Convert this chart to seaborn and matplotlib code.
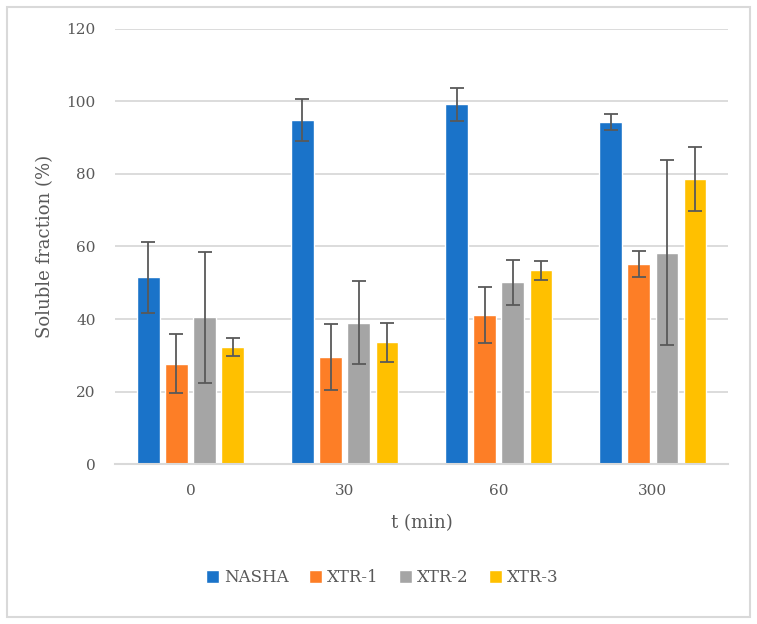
import pandas as pd
import matplotlib.pyplot as plt
import seaborn as sns
from matplotlib.patches import Rectangle

# values
times = ['0', '30', '60', '300']
series = ['NASHA', 'XTR-1', 'XTR-2', 'XTR-3']
nasha = [51.5, 94.8, 99.2, 94.4]
xtr1 = [27.7, 29.6, 41.1, 55.2]
xtr2 = [40.5, 39.0, 50.2, 58.3]
xtr3 = [32.3, 33.6, 53.4, 78.7]
nasha_sd = [9.7, 5.8, 4.6, 2.2]
xtr1_sd = [8.2, 9.1, 7.6, 3.6]
xtr2_sd = [18.0, 11.4, 6.2, 25.5]
xtr3_sd = [2.6, 5.4, 2.6, 8.8]

colors = ['#1a73c9', '#fd7e26', '#a5a5a5', '#ffc000']
text_col = '#595959'
grid_col = '#d9d9d9'

values = [nasha, xtr1, xtr2, xtr3]
sds = [nasha_sd, xtr1_sd, xtr2_sd, xtr3_sd]

rows = []
for name, vals in zip(series, values):
    for t, v in zip(times, vals):
        rows.append({'t': t, 'series': name, 'value': v})
df = pd.DataFrame(rows)

sns.set_style('white')
plt.rcParams['font.family'] = ['DejaVu Serif']

fig = plt.figure(figsize=(7.57, 6.24), dpi=100)
ax = fig.add_axes([0.152, 0.256, 0.81, 0.698])

sns.barplot(data=df, x='t', y='value', hue='series', order=times, hue_order=series,
            palette=colors, width=0.73, gap=0.2, errorbar=None, saturation=1,
            ax=ax, zorder=2)

# error bars on each bar centre
for cont, sd in zip(ax.containers, sds):
    xs = [b.get_x() + b.get_width() / 2 for b in cont]
    ys = [b.get_height() for b in cont]
    ax.errorbar(xs, ys, yerr=sd, fmt='none', ecolor=text_col, elinewidth=1.3,
                capsize=5, capthick=1.3, zorder=3)

ax.set_ylim(0, 120)
ax.set_yticks(range(0, 121, 20))
ax.set_xlim(-0.49, 3.49)
ax.yaxis.grid(True, color=grid_col, lw=1.3, zorder=0)
ax.set_axisbelow(True)
for s in ['top', 'right', 'left']:
    ax.spines[s].set_visible(False)
ax.spines['bottom'].set_color(grid_col)
ax.spines['bottom'].set_linewidth(1.5)
ax.tick_params(axis='both', length=0, labelsize=11, colors=text_col, pad=14)

ax.set_xlabel('t (min)', fontsize=13, color=text_col, labelpad=12)
ax.set_ylabel('Soluble fraction (%)', fontsize=13, color=text_col, labelpad=9)

handles, labels = ax.get_legend_handles_labels()
ax.get_legend().remove()
fig.legend(handles, labels, loc='center', bbox_to_anchor=(0.505, 0.074), ncol=4,
           frameon=False, fontsize=12, handlelength=0.8, handleheight=0.8,
           handletextpad=0.3, columnspacing=1.2, labelcolor=text_col)

fig.patches.append(Rectangle((0.009, 0.011), 0.982, 0.978, transform=fig.transFigure,
                             fill=False, edgecolor=grid_col, lw=1.5))

fig.savefig('out.png', dpi=100)
